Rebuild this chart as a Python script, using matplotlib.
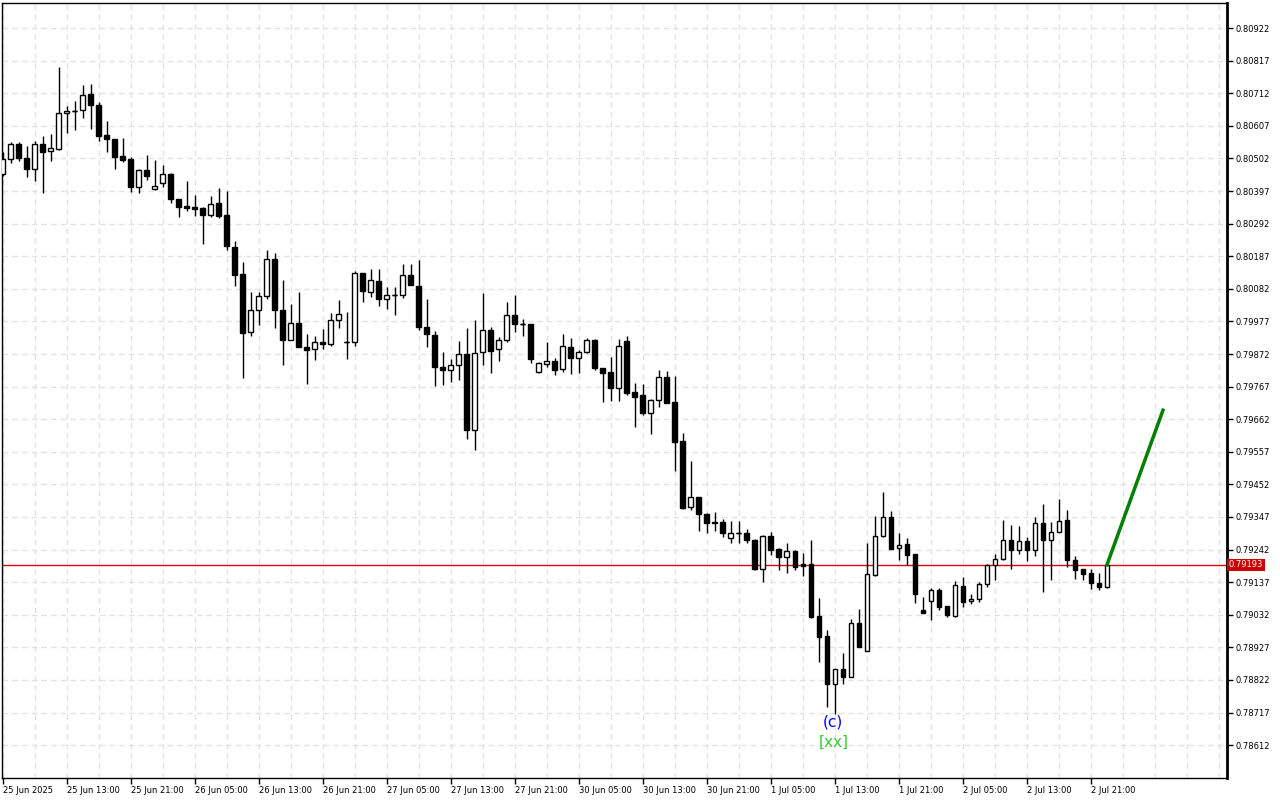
import matplotlib
matplotlib.use('Agg')
import matplotlib.pyplot as plt
from matplotlib.ticker import MultipleLocator
import numpy as np

# hourly OHLC, 25 Jun 05:00 .. 2 Jul 23:00
opens = [
    .80452, .80500, .80548, .80503, .80468, .80548, .80526, .80532, .80648, .80655,
    .80658, .80709, .80674, .80577, .80564, .80510, .80500, .80410, .80464, .80403,
    .80423, .80452, .80371, .80348, .80345, .80342, .80320, .80358, .80320, .80216,
    .80129, .79943, .80013, .80059, .80178, .80013, .79917, .79972, .79894, .79888,
    .79910, .79904, .79981, .79910, .79910, .80133, .80071, .80107, .80049, .80062,
    .80062, .80126, .80091, .79959, .79933, .79830, .79820, .79836, .79872, .79627,
    .79878, .79949, .79888, .79917, .79997, .79968, .79968, .79814, .79839, .79849,
    .79823, .79894, .79859, .79878, .79917, .79827, .79814, .79762, .79914, .79749,
    .79740, .79682, .79723, .79798, .79717, .79591, .79379, .79411, .79356, .79330,
    .79330, .79279, .79295, .79295, .79272, .79179, .79285, .79243, .79218, .79237,
    .79195, .79195, .79027, .78963, .78808, .78857, .78831, .79005, .78915, .79160,
    .79285, .79346, .79247, .79259, .79227, .79047, .79076, .79111, .79060, .79027,
    .79124, .79076, .79082, .79131, .79192, .79211, .79272, .79240, .79269, .79240,
    .79327, .79272, .79298, .79337, .79208, .79179, .79166, .79134, .79121]
highs = [
    .80522, .80555, .80555, .80542, .80558, .80574, .80581, .80796, .80671, .80687,
    .80738, .80742, .80684, .80622, .80564, .80568, .80506, .80468, .80513, .80497,
    .80481, .80455, .80371, .80429, .80384, .80345, .80381, .80406, .80397, .80236,
    .80168, .80071, .80071, .80207, .80197, .80110, .80033, .80071, .79936, .79930,
    .79952, .80004, .80046, .80007, .80139, .80133, .80146, .80146, .80087, .80087,
    .80162, .80162, .80175, .80049, .79946, .79878, .79856, .79914, .79955, .79981,
    .80068, .79959, .79926, .80039, .80062, .79984, .79968, .79846, .79910, .79859,
    .79936, .79923, .79885, .79923, .79920, .79827, .79862, .79920, .79930, .79778,
    .79775, .79727, .79820, .79817, .79801, .79617, .79527, .79411, .79359, .79363,
    .79340, .79334, .79334, .79308, .79276, .79288, .79298, .79247, .79263, .79240,
    .79230, .79272, .79085, .78982, .78857, .78908, .79018, .79050, .79263, .79350,
    .79427, .79366, .79295, .79279, .79227, .79089, .79118, .79118, .79060, .79140,
    .79153, .79098, .79137, .79195, .79227, .79337, .79321, .79317, .79282, .79346,
    .79388, .79330, .79404, .79369, .79221, .79179, .79179, .79166, .79193]
lows = [
    .80445, .80487, .80493, .80442, .80429, .80390, .80493, .80529, .80584, .80593,
    .80632, .80597, .80558, .80522, .80468, .80490, .80394, .80390, .80432, .80400,
    .80410, .80358, .80313, .80332, .80316, .80226, .80313, .80310, .80207, .80091,
    .79794, .79930, .79965, .80049, .79955, .79836, .79917, .79894, .79775, .79852,
    .79888, .79897, .79955, .79856, .79897, .80039, .80055, .80026, .80017, .79997,
    .80052, .80094, .79949, .79894, .79769, .79772, .79781, .79788, .79598, .79562,
    .79836, .79810, .79849, .79910, .79943, .79930, .79843, .79810, .79830, .79804,
    .79814, .79807, .79810, .79875, .79820, .79717, .79720, .79720, .79740, .79636,
    .79675, .79614, .79701, .79714, .79495, .79372, .79369, .79301, .79295, .79301,
    .79282, .79263, .79263, .79263, .79176, .79137, .79224, .79176, .79166, .79176,
    .79156, .79021, .78879, .78734, .78712, .78808, .78831, .78928, .78915, .79156,
    .79282, .79243, .79208, .79192, .79069, .79037, .79015, .79047, .79024, .79024,
    .79056, .79066, .79073, .79121, .79143, .79208, .79179, .79227, .79205, .79221,
    .79105, .79143, .79298, .79185, .79147, .79143, .79114, .79111, .79118]
closes = [
    .80500, .80548, .80503, .80468, .80548, .80522, .80535, .80648, .80655, .80655,
    .80706, .80674, .80574, .80564, .80506, .80497, .80410, .80464, .80445, .80413,
    .80452, .80371, .80345, .80342, .80339, .80320, .80355, .80316, .80220, .80126,
    .79939, .80013, .80059, .80178, .80013, .79917, .79972, .79894, .79885, .79910,
    .79904, .79981, .80001, .79910, .80133, .80075, .80110, .80049, .80062, .80062,
    .80126, .80094, .79959, .79936, .79830, .79820, .79836, .79872, .79627, .79875,
    .79949, .79881, .79917, .79997, .79968, .79968, .79856, .79843, .79849, .79820,
    .79897, .79859, .79878, .79917, .79827, .79810, .79762, .79897, .79746, .79733,
    .79682, .79723, .79798, .79714, .79588, .79375, .79411, .79356, .79327, .79327,
    .79295, .79295, .79295, .79272, .79179, .79285, .79240, .79218, .79237, .79185,
    .79189, .79024, .78960, .78808, .78857, .78831, .79005, .78928, .79163, .79285,
    .79346, .79243, .79256, .79224, .79098, .79037, .79111, .79056, .79031, .79127,
    .79073, .79082, .79131, .79192, .79211, .79272, .79240, .79269, .79240, .79327,
    .79272, .79298, .79334, .79208, .79176, .79163, .79134, .79121, .79193]

time_labels = ["25 Jun 2025", "25 Jun 13:00", "25 Jun 21:00", "26 Jun 05:00",
               "26 Jun 13:00", "26 Jun 21:00", "27 Jun 05:00", "27 Jun 13:00",
               "27 Jun 21:00", "30 Jun 05:00", "30 Jun 13:00", "30 Jun 21:00",
               "1 Jul 05:00", "1 Jul 13:00", "1 Jul 21:00", "2 Jul 05:00",
               "2 Jul 13:00", "2 Jul 21:00"]
price_ticks = [0.80922, 0.80817, 0.80712, 0.80607, 0.80502, 0.80397, 0.80292,
               0.80187, 0.80082, 0.79977, 0.79872, 0.79767, 0.79662, 0.79557,
               0.79452, 0.79347, 0.79242, 0.79137, 0.79032, 0.78927, 0.78822,
               0.78717, 0.78612]

current_price = 0.79193
proj_bars = [138, 145]
proj_prices = [0.79193, 0.79691]
wave_bar = 103.8
wave_label_price = 0.78686
degree_label_price = 0.78621

fig = plt.figure(figsize=(12.8, 8), dpi=100)
ax = fig.add_axes([2 / 1280, 22 / 800, 1225 / 1280, 775 / 800])

x = np.arange(len(opens))
o = np.array(opens)
c = np.array(closes)

# wicks then bodies on top
ax.vlines(x, lows, highs, color='black', lw=1, zorder=3)
bottoms = np.minimum(o, c)
heights = np.abs(c - o)
faces = ['white' if cc > oo else 'black' for oo, cc in zip(o, c)]
ax.bar(x, heights, 0.6, bottom=bottoms, color=faces, edgecolor='black',
       linewidth=1, zorder=4)
doji = heights == 0
ax.hlines(c[doji], x[doji] - 0.3, x[doji] + 0.3, color='black', lw=1, zorder=4)

# current price line
ax.axhline(current_price, color='#e00000', lw=1, zorder=2)

# projection
ax.plot(proj_bars, proj_prices, color='#008000', lw=2.5, zorder=5)

# wave labels
ax.text(wave_bar, wave_label_price, '(c)', color='#0000ff', fontsize=11,
        ha='center', va='center', zorder=6)
ax.text(wave_bar, degree_label_price, '[xx]', color='#33cc33', fontsize=11,
        ha='center', va='center', zorder=6)

ax.set_xlim(-0.09, 153.0)
ax.set_ylim(0.78506, 0.81003)

ax.set_xticks(range(0, 8 * len(time_labels), 8))
ax.set_xticklabels(time_labels, ha='left', fontsize=6)
ax.xaxis.set_minor_locator(MultipleLocator(4))
ax.yaxis.tick_right()
ax.set_yticks(price_ticks)
ax.set_yticklabels(['%.5f' % p for p in price_ticks], fontsize=6)
ax.tick_params(axis='both', which='major', direction='out', length=4,
               width=1, color='black', pad=2)
ax.tick_params(axis='x', which='minor', length=0)
ax.grid(which='both', color='#e3e3e3', linestyle=(0, (4, 3)), lw=1, zorder=0)
ax.set_axisbelow(True)

for side in ['left', 'top', 'bottom']:
    ax.spines[side].set_linewidth(1)
ax.spines['right'].set_linewidth(2)

# price tag on the axis
ax.text(1.0015, current_price, '%.5f' % current_price,
        transform=ax.get_yaxis_transform(), color='white', fontsize=6,
        ha='left', va='center',
        bbox=dict(facecolor='#cc0000', edgecolor='none', pad=1.2), zorder=7)

fig.savefig('out.png', dpi=100)
